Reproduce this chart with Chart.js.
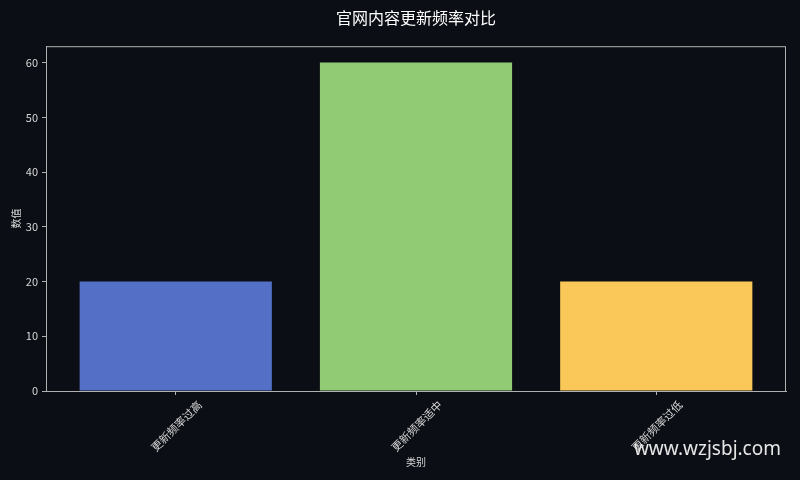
<!DOCTYPE html>
<html>
<head>
<meta charset="utf-8">
<script src="https://cdn.jsdelivr.net/npm/chart.js@4"></script>
<style>
  html, body { margin: 0; padding: 0; background: #0b0e14; }
  #wrap { width: 800px; height: 480px; }
</style>
</head>
<body>
<div id="wrap"><canvas id="barChart"></canvas></div>
<script>
// chart data
const categories = ['更新频率过高', '更新频率适中', '更新频率过低'];
const values = [20, 60, 20];
const barColors = ['#5470c6', '#91cc75', '#fac858'];
const yTicks = [0, 10, 20, 30, 40, 50, 60];

const fontFamily = '"Noto Sans CJK SC", "Noto Sans", "DejaVu Sans", sans-serif';
const textColor = '#d8d8d8';
const frameColor = '#b0b0b0';

// frame round the plot area + watermark
const framePlugin = {
  id: 'frame',
  beforeDraw(chart) {
    const c = chart.ctx;
    c.save();
    c.fillStyle = '#0b0e14';
    c.fillRect(0, 0, chart.width, chart.height);
    c.restore();
  },
  afterDraw(chart) {
    const { ctx, chartArea: a } = chart;
    ctx.save();
    ctx.strokeStyle = frameColor;
    ctx.lineWidth = 1;
    ctx.strokeRect(a.left + 0.5, a.top + 0.5, a.right - a.left - 1, a.bottom - a.top);
    ctx.fillStyle = '#e6e6e6';
    ctx.font = '19px "Noto Sans", "Open Sans", sans-serif';
    ctx.textAlign = 'right';
    ctx.textBaseline = 'alphabetic';
    ctx.fillText('www.wzjsbj.com', 781, 455);
    ctx.restore();
  }
};

const ctx = document.getElementById('barChart').getContext('2d');

new Chart(ctx, {
  type: 'bar',
  data: {
    datasets: [{
      label: '数值',
      data: values.map((v, i) => ({ x: i, y: v })),
      backgroundColor: barColors,
      borderWidth: 0,
      categoryPercentage: 0.8,
      barPercentage: 1.0
    }]
  },
  options: {
    responsive: true,
    maintainAspectRatio: false,
    animation: false,
    layout: { padding: { left: 0, right: 14, top: 0, bottom: 0 } },
    plugins: {
      legend: { display: false },
      tooltip: { enabled: false },
      title: {
        display: true,
        fullSize: false,
        text: '官网内容更新频率对比',
        color: '#ffffff',
        font: { size: 16, family: fontFamily, weight: 'normal' },
        padding: { top: 8, bottom: 19 }
      }
    },
    scales: {
      x: {
        type: 'linear',
        min: -0.54,
        max: 2.54,
        offset: false,
        afterBuildTicks: (scale) => {
          scale.ticks = categories.map((c, i) => ({ value: i }));
        },
        afterFit: (scale) => { scale.height = 89; },
        grid: { display: true, offset: false, drawOnChartArea: false, drawTicks: true, tickLength: 4, color: frameColor },
        border: { display: true, color: frameColor },
        ticks: {
          color: textColor,
          font: { size: 11, family: fontFamily },
          minRotation: 45,
          maxRotation: 45,
          labelOffset: 24,
          padding: 3,
          autoSkip: false,
          callback: (v) => categories[v] ?? ''
        },
        title: {
          display: true,
          text: '类别',
          color: textColor,
          font: { size: 10, family: fontFamily },
          padding: { top: 0, bottom: 12 }
        }
      },
      y: {
        min: 0,
        max: 63,
        afterBuildTicks: (scale) => {
          scale.ticks = yTicks.map(v => ({ value: v }));
        },
        afterFit: (scale) => { scale.width = 46; },
        grid: { display: true, drawOnChartArea: false, drawTicks: true, tickLength: 4, color: frameColor },
        border: { display: true, color: frameColor },
        ticks: {
          color: textColor,
          font: { size: 11, family: fontFamily },
          padding: 4
        },
        title: {
          display: true,
          text: '数值',
          color: textColor,
          font: { size: 10, family: fontFamily },
          padding: { top: 10, bottom: 0 }
        }
      }
    }
  },
  plugins: [framePlugin]
});
</script>
</body>
</html>
